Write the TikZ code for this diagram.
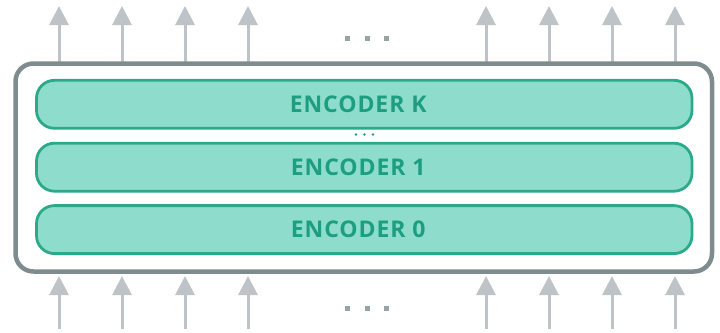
\documentclass[tikz,border=0pt]{standalone}
\usepackage{fontspec}
\setmainfont{Open Sans}
\newfontfamily\encfont[LetterSpace=4.0]{Open Sans}
\usetikzlibrary{arrows.meta}
\definecolor{encfill}{HTML}{8EDDCC}
\definecolor{encdraw}{HTML}{2BAA8A}
\definecolor{enctext}{HTML}{1E9E80}
\definecolor{outerc}{HTML}{7F8C8D}
\definecolor{arrowc}{HTML}{BDC3C7}
\definecolor{dotc}{HTML}{95A5A6}
\begin{document}
\begin{tikzpicture}[x=1pt,y=-1pt,
  encbox/.style={draw=encdraw, fill=encfill, line width=2.8pt, rounded corners=18pt,
    minimum width=655.5pt, minimum height=48pt, text=enctext,
    font=\encfont\fontsize{23}{23}\selectfont\bfseries, inner sep=0pt},
  outerbox/.style={draw=outerc, fill=white, line width=4.5pt, rounded corners=18pt,
    minimum width=696.5pt, minimum height=208pt, inner sep=0pt},
  flow/.style={draw=arrowc, line width=3pt, -{Triangle[width=19pt,length=19pt]}},
  bigdot/.style={fill=dotc, minimum size=5pt, inner sep=0pt},
  smalldot/.style={fill=enctext, circle, minimum size=2.6pt, inner sep=0pt}]
\useasboundingbox (0,0) rectangle (720,332);
\foreach \i/\x in {1/59,2/122,3/185,4/248,5/486,6/549,7/612,8/675}{
  \coordinate (ti\i) at (\x,6);
  \coordinate (to\i) at (\x,62);
  \draw[flow] (to\i) -- (ti\i);
  \coordinate (bo\i) at (\x,329);
  \coordinate (bi\i) at (\x,276);
  \draw[flow] (bo\i) -- (bi\i);
}
\node[outerbox] (stack) at (363.75,167.5) {};
\node[encbox] (encK) at (364.25,104.3) {\hspace*{-12pt}ENCODER K};
\node[encbox] (enc1) at (364.25,167.2) {\hspace*{-12pt}ENCODER 1};
\node[encbox] (enc0) at (364.25,229.6) {\hspace*{-12pt}ENCODER 0};
\foreach \i/\x in {1/347,2/367,3/386}{
  \node[bigdot] (td\i) at (\x,38) {};
  \node[bigdot] (bd\i) at (\x,308) {};
}
\foreach \i/\x in {1/356,2/364.5,3/373}{
  \node[smalldot] (md\i) at (\x,134.5) {};
}
\end{tikzpicture}
\end{document}
